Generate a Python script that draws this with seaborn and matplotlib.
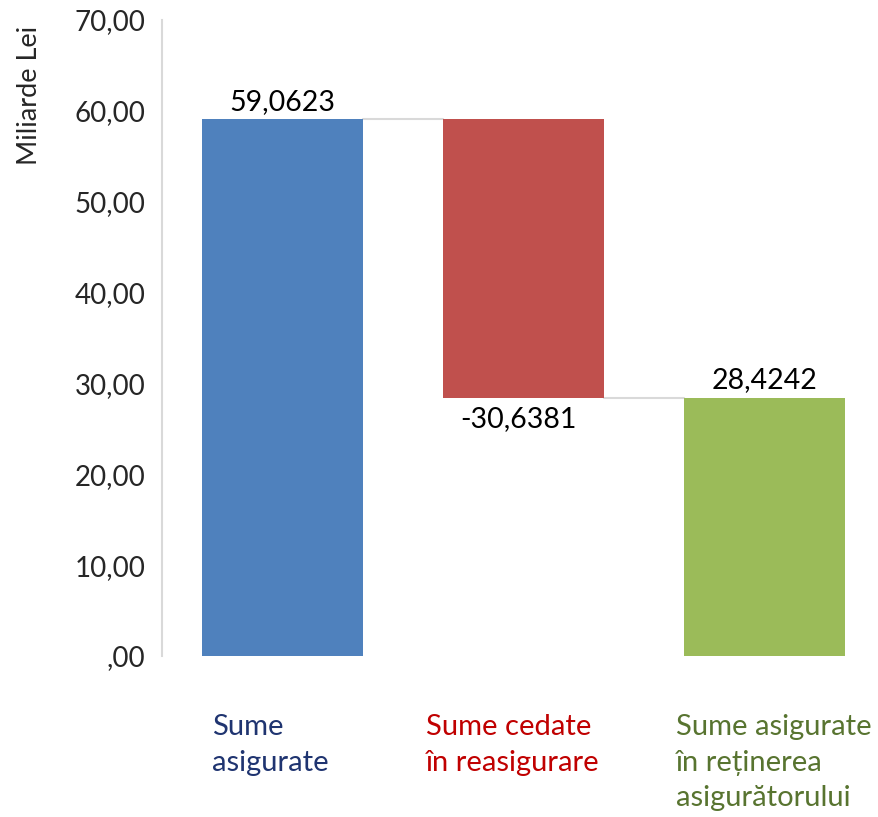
import numpy as np
import matplotlib.pyplot as plt
import matplotlib.transforms as mtransforms
import seaborn as sns
import pandas as pd

# Waterfall data (miliarde lei)
categories = ["Sume\nasigurate", "Sume cedate\nîn reasigurare", "Sume asigurate\nîn reținerea\nasigurătorului"]
values = [59.0623, -30.6381, 28.4242]
value_labels = ["59,0623", "-30,6381", "28,4242"]
bar_colors = ["#4F81BD", "#C0504D", "#9BBB59"]
label_colors = ["#1F3470", "#C00000", "#587430"]
y_ticks = [0, 10, 20, 30, 40, 50, 60, 70]
y_tick_labels = [",00", "10,00", "20,00", "30,00", "40,00", "50,00", "60,00", "70,00"]

# bar extents: first and last start at zero, middle one hangs from the first
heights = [abs(v) for v in values]
bottoms = [0, values[0] + values[1], 0]
tops = [b + h for b, h in zip(bottoms, heights)]

sns.set_style("white")
plt.rcParams['font.family'] = ['Lato', 'DejaVu Sans']

fig = plt.figure(figsize=(8.79, 8.17), dpi=100)
ax = fig.add_axes([162 / 879, 161 / 817, (879 - 162) / 879, 636 / 817])

df = pd.DataFrame({"cat": categories, "h": heights})
sns.barplot(data=df, x="cat", y="h", hue="cat", palette=bar_colors,
            width=0.668, legend=False, ax=ax, saturation=1)

# move bars to their waterfall positions
for patch, b in zip(ax.patches, bottoms):
    patch.set_y(b)
    patch.set_edgecolor("none")

# connector lines between bars
w = 0.668
ax.plot([0 + w / 2, 1 - w / 2], [tops[0], tops[0]], color="#D9D9D9", lw=1.5, zorder=0)
ax.plot([1 + w / 2, 2 - w / 2], [bottoms[1], bottoms[1]], color="#D9D9D9", lw=1.5, zorder=0)

# value labels
ax.text(0, tops[0] + 0.5, value_labels[0], ha="center", va="bottom", fontsize=20.5, color="#000000")
ax.text(1 - 0.02, bottoms[1] - 0.9, value_labels[1], ha="center", va="top", fontsize=20.5, color="#000000")
ax.text(2, tops[2] + 0.5, value_labels[2], ha="center", va="bottom", fontsize=20.5, color="#000000")

ax.set_ylim(0, 70)
ax.set_xlim(-0.5, 2.473)
ax.set_yticks(y_ticks)
ax.set_yticklabels(y_tick_labels, fontsize=20)
ax.tick_params(axis="y", length=0, pad=12)
ax.set_xticks(range(len(categories)))
ax.set_xticklabels(categories, fontsize=21, multialignment="left", va="top")
ax.tick_params(axis="x", length=0, pad=42)
# small horizontal nudges so the labels sit like in the original
nudges = [-12, -11, 9]
for lbl, c, dx in zip(ax.get_xticklabels(), label_colors, nudges):
    lbl.set_color(c)
    lbl.set_linespacing(1.45)
    lbl.set_transform(lbl.get_transform() + mtransforms.ScaledTranslation(dx / 100, 0, fig.dpi_scale_trans))

ax.set_xlabel("")
ax.set_ylabel("")
for s in ["top", "right", "bottom"]:
    ax.spines[s].set_visible(False)
ax.spines["left"].set_color("#D9D9D9")
ax.spines["left"].set_linewidth(1.5)

fig.text(30 / 879, 1 - 95 / 817, "Miliarde Lei", rotation=90, ha="center", va="center", fontsize=19.5)

fig.savefig("out.png", dpi=100)
